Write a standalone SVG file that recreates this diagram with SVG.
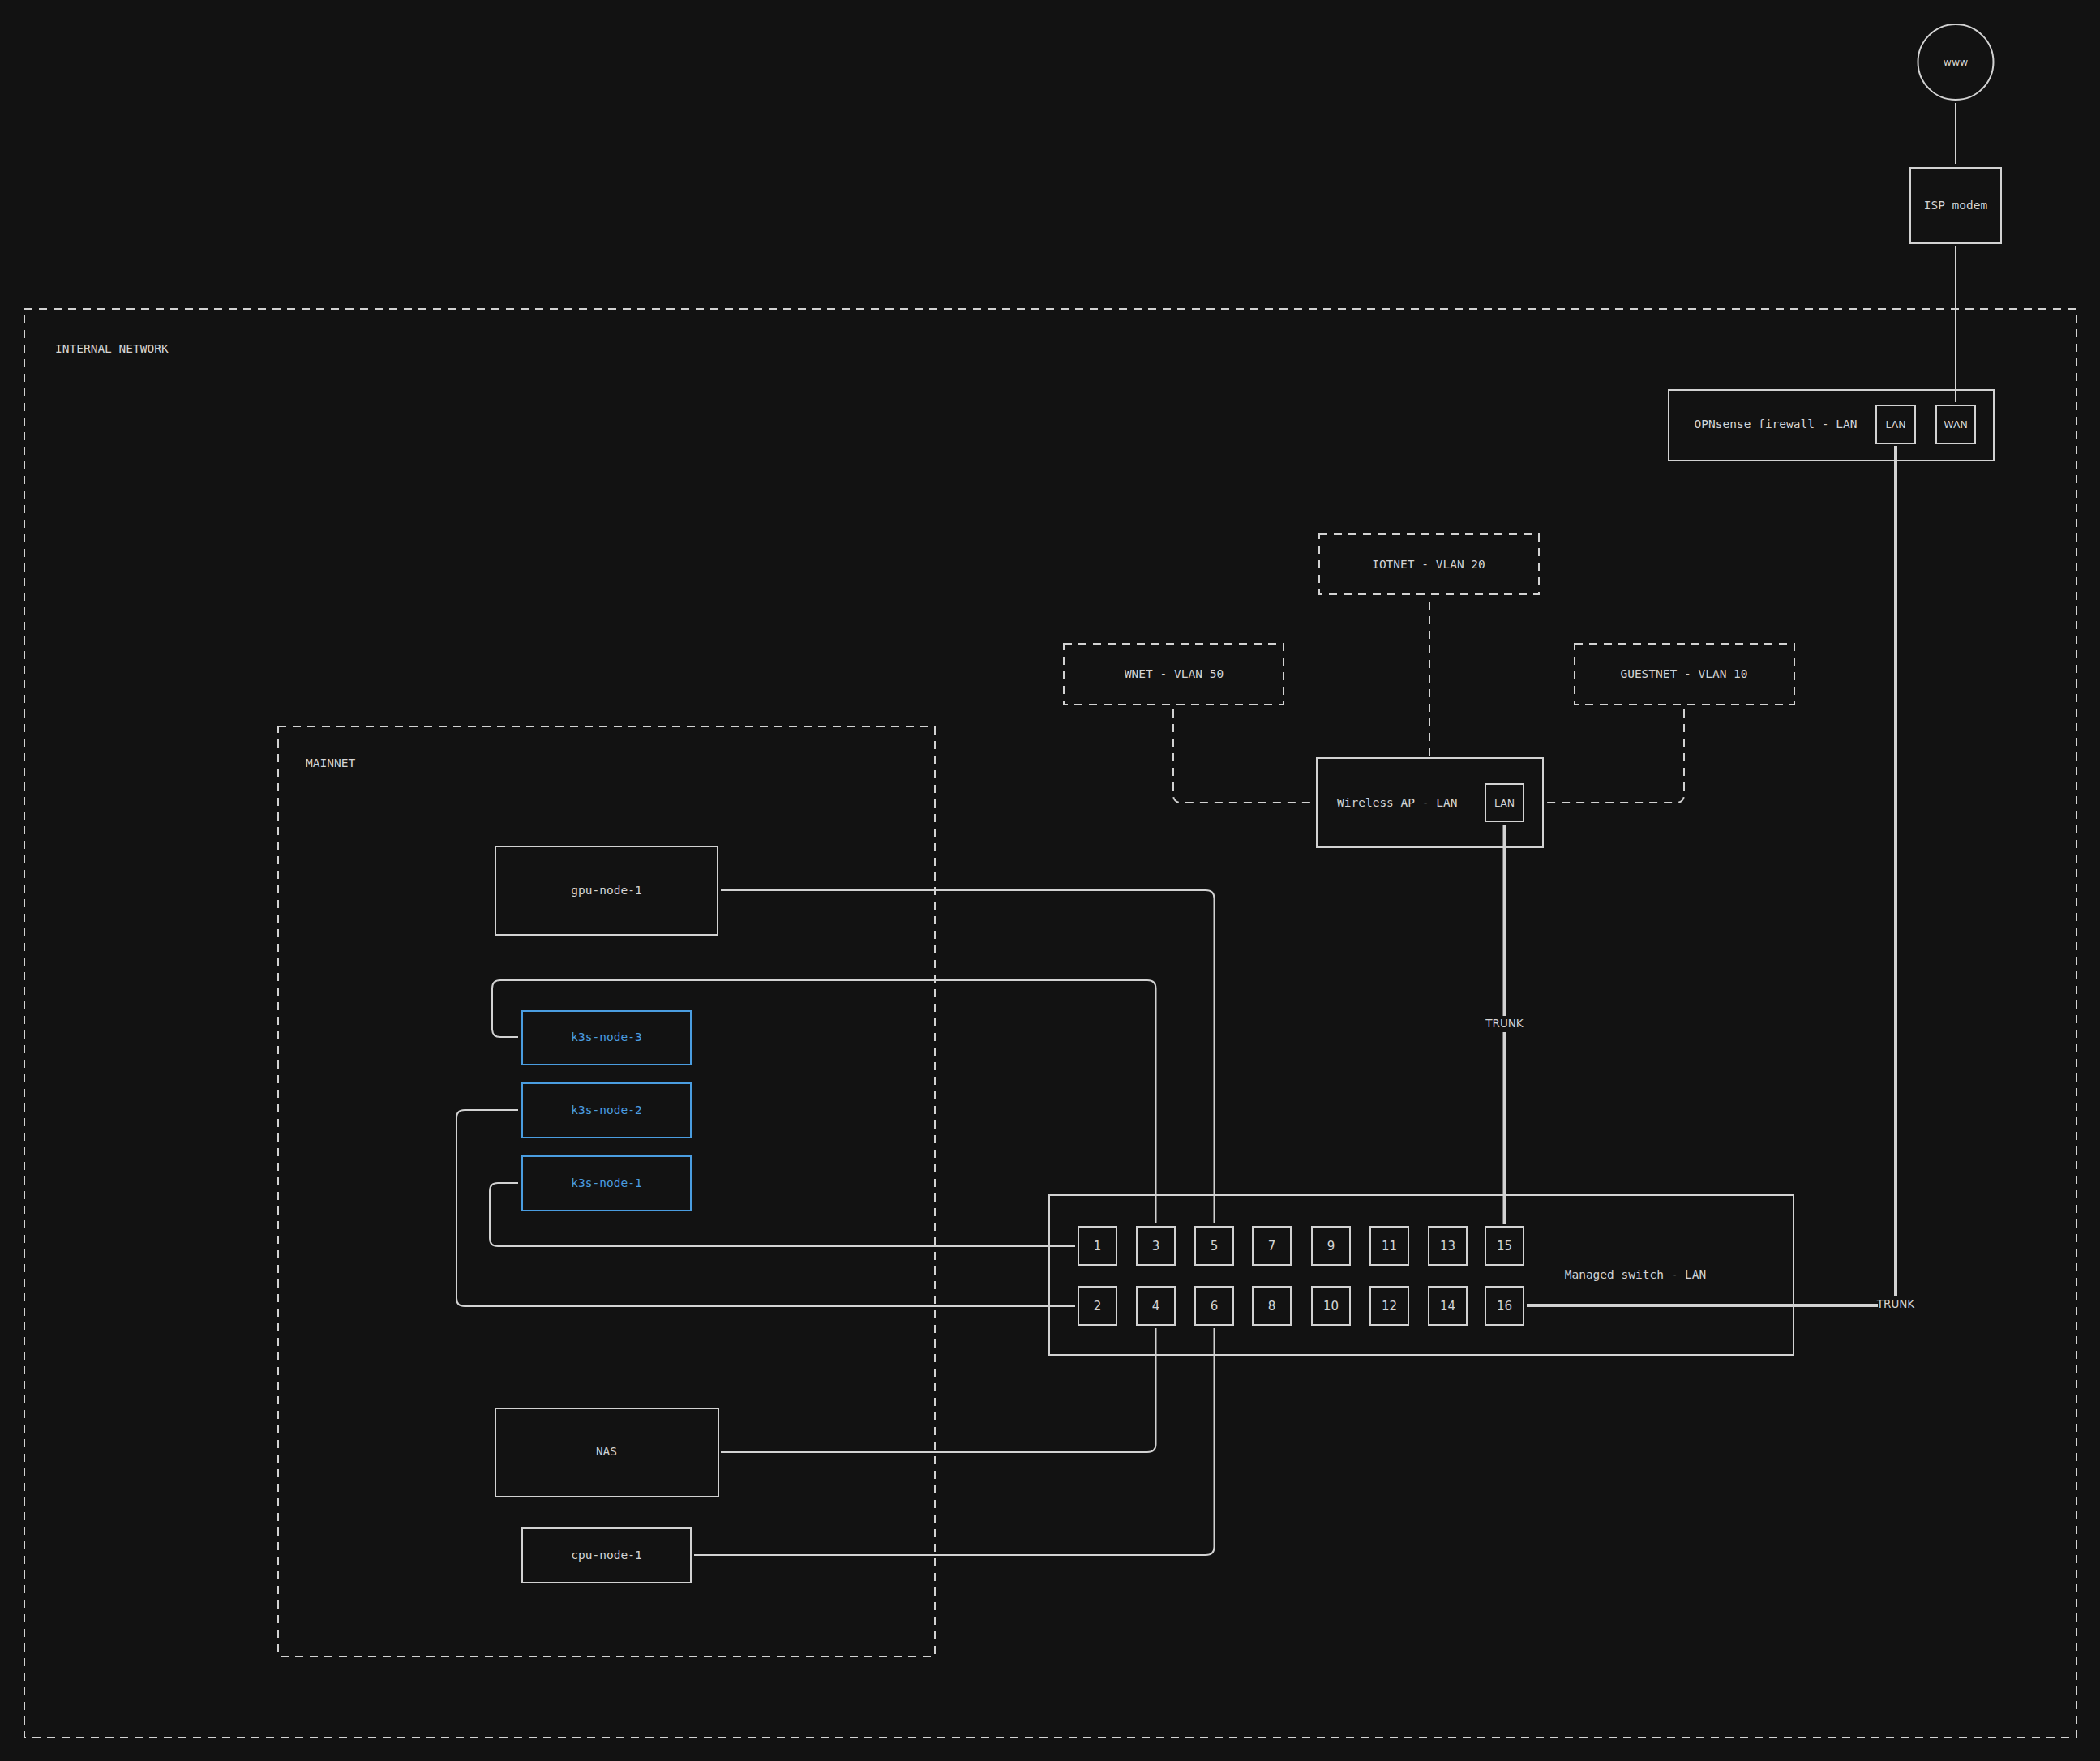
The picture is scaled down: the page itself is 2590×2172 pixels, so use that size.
<svg xmlns="http://www.w3.org/2000/svg" width="2590" height="2172" viewBox="0 0 2590 2172">
<style>
.bg{fill:#121212}
.box{fill:none;stroke:#d2d2d2;stroke-width:2}
.dbox{fill:none;stroke:#d2d2d2;stroke-width:2;stroke-dasharray:10 8}
.blue{fill:none;stroke:#4a9de0;stroke-width:2}
.port{fill:none;stroke:#d2d2d2;stroke-width:2}
.conn{fill:none;stroke:#d2d2d2;stroke-width:2}
.dconn{fill:none;stroke:#d2d2d2;stroke-width:2;stroke-dasharray:10 8}
.trunk{fill:none;stroke:#d2d2d2;stroke-width:4}
.lbl{font-family:"DejaVu Sans Mono","Liberation Mono",monospace;font-size:14.5px;fill:#d4d4d4;dominant-baseline:central}
.blbl{font-family:"DejaVu Sans Mono","Liberation Mono",monospace;font-size:14.5px;fill:#4a9de0;dominant-baseline:central;text-anchor:middle}
.c{text-anchor:middle}
.plbl{font-family:"DejaVu Sans","Liberation Sans",sans-serif;font-size:15px;fill:#d4d4d4;dominant-baseline:central;text-anchor:middle}
.slbl{font-family:"DejaVu Sans","Liberation Sans",sans-serif;font-size:12.5px;fill:#d4d4d4;dominant-baseline:central;text-anchor:middle}
.tlbl{font-family:"DejaVu Sans","Liberation Sans",sans-serif;font-size:13.5px;fill:#d4d4d4;dominant-baseline:central;text-anchor:middle}
</style>
<rect class="bg" x="0" y="0" width="2590" height="2172"/>

<g id="internal-network">
<rect class="dbox" x="30" y="381" width="2531" height="1762"/>
<text class="lbl" x="68" y="430">INTERNAL NETWORK</text>
</g>
<g id="mainnet">
<rect class="dbox" x="343" y="896" width="810" height="1147"/>
<text class="lbl" x="377" y="941">MAINNET</text>
</g>

<g id="connectors">
<path class="conn" d="M2412 127V202"/>
<path class="conn" d="M2412 304V496"/>
<path class="trunk" d="M2338 550V1599"/>
<path class="trunk" d="M2316 1610H1883"/>
<text class="tlbl" x="2338" y="1608">TRUNK</text>
<path class="trunk" d="M1855.5 1017V1253"/>
<path class="trunk" d="M1855.5 1273V1510"/>
<text class="tlbl" x="1855.5" y="1262">TRUNK</text>
<path class="dconn" d="M1763 742V932"/>
<path class="dconn" d="M1447 875V980Q1447 990 1457 990H1620"/>
<path class="dconn" d="M2077 875V980Q2077 990 2067 990H1907"/>
<path class="conn" d="M889 1098H1487Q1497.5 1098 1497.5 1108V1509"/>
<path class="conn" d="M639 1279H617Q607 1279 607 1269V1219Q607 1209 617 1209H1415Q1425.5 1209 1425.5 1219V1509"/>
<path class="conn" d="M639 1369H573Q563 1369 563 1379V1601Q563 1611 573 1611H1326"/>
<path class="conn" d="M639 1459H614Q604 1459 604 1469V1527Q604 1537 614 1537H1326"/>
<path class="conn" d="M889 1791H1415Q1425.5 1791 1425.5 1781V1638"/>
<path class="conn" d="M856 1918H1487Q1497.5 1918 1497.5 1908V1638"/>
</g>

<g id="www">
<circle class="box" cx="2412" cy="76.5" r="46.5"/>
<text class="slbl" x="2412" y="76">www</text>
</g>
<g id="isp-modem">
<rect class="box" x="2356" y="207" width="112" height="93"/>
<text class="lbl c" x="2412" y="253">ISP modem</text>
</g>
<g id="firewall">
<rect class="box" x="2058" y="481" width="401" height="87"/>
<text class="lbl c" x="2190" y="523">OPNsense firewall - LAN</text>
<rect class="port" x="2314" y="500" width="48" height="47"/>
<text class="slbl" x="2338" y="523">LAN</text>
<rect class="port" x="2388" y="500" width="48" height="47"/>
<text class="slbl" x="2412" y="523">WAN</text>
</g>
<g id="iotnet">
<rect class="dbox" x="1627" y="659" width="271" height="74"/>
<text class="lbl c" x="1762" y="696">IOTNET - VLAN 20</text>
</g>
<g id="wnet">
<rect class="dbox" x="1312" y="794" width="271" height="75"/>
<text class="lbl c" x="1448" y="831">WNET - VLAN 50</text>
</g>
<g id="guestnet">
<rect class="dbox" x="1942" y="794" width="271" height="75"/>
<text class="lbl c" x="2077" y="831">GUESTNET - VLAN 10</text>
</g>
<g id="wireless-ap">
<rect class="box" x="1624" y="935" width="279" height="110"/>
<text class="lbl" x="1649" y="990">Wireless AP - LAN</text>
<rect class="port" x="1832" y="967" width="47" height="46"/>
<text class="slbl" x="1855.5" y="990">LAN</text>
</g>
<g id="gpu-node-1">
<rect class="box" x="611" y="1044" width="274" height="109"/>
<text class="lbl c" x="748" y="1098">gpu-node-1</text>
</g>
<g id="k3s-node-3">
<rect class="blue" x="644" y="1247" width="208" height="66"/>
<text class="blbl" x="748" y="1279">k3s-node-3</text>
</g>
<g id="k3s-node-2">
<rect class="blue" x="644" y="1336" width="208" height="67"/>
<text class="blbl" x="748" y="1369">k3s-node-2</text>
</g>
<g id="k3s-node-1">
<rect class="blue" x="644" y="1426" width="208" height="67"/>
<text class="blbl" x="748" y="1459">k3s-node-1</text>
</g>
<g id="nas">
<rect class="box" x="611" y="1737" width="275" height="109"/>
<text class="lbl c" x="748" y="1790">NAS</text>
</g>
<g id="cpu-node-1">
<rect class="box" x="644" y="1885" width="208" height="67"/>
<text class="lbl c" x="748" y="1918">cpu-node-1</text>
</g>
<g id="managed-switch">
<rect class="box" x="1294" y="1474" width="918" height="197"/>
<text class="lbl c" x="2017" y="1572">Managed switch - LAN</text>
<rect class="port" x="1330" y="1513" width="47" height="47"/><text class="plbl" x="1353.5" y="1537">1</text>
<rect class="port" x="1402" y="1513" width="47" height="47"/><text class="plbl" x="1425.5" y="1537">3</text>
<rect class="port" x="1474" y="1513" width="47" height="47"/><text class="plbl" x="1497.5" y="1537">5</text>
<rect class="port" x="1545" y="1513" width="47" height="47"/><text class="plbl" x="1568.5" y="1537">7</text>
<rect class="port" x="1618" y="1513" width="47" height="47"/><text class="plbl" x="1641.5" y="1537">9</text>
<rect class="port" x="1690" y="1513" width="47" height="47"/><text class="plbl" x="1713.5" y="1537">11</text>
<rect class="port" x="1762" y="1513" width="47" height="47"/><text class="plbl" x="1785.5" y="1537">13</text>
<rect class="port" x="1832" y="1513" width="47" height="47"/><text class="plbl" x="1855.5" y="1537">15</text>
<rect class="port" x="1330" y="1587" width="47" height="47"/><text class="plbl" x="1353.5" y="1611">2</text>
<rect class="port" x="1402" y="1587" width="47" height="47"/><text class="plbl" x="1425.5" y="1611">4</text>
<rect class="port" x="1474" y="1587" width="47" height="47"/><text class="plbl" x="1497.5" y="1611">6</text>
<rect class="port" x="1545" y="1587" width="47" height="47"/><text class="plbl" x="1568.5" y="1611">8</text>
<rect class="port" x="1618" y="1587" width="47" height="47"/><text class="plbl" x="1641.5" y="1611">10</text>
<rect class="port" x="1690" y="1587" width="47" height="47"/><text class="plbl" x="1713.5" y="1611">12</text>
<rect class="port" x="1762" y="1587" width="47" height="47"/><text class="plbl" x="1785.5" y="1611">14</text>
<rect class="port" x="1832" y="1587" width="47" height="47"/><text class="plbl" x="1855.5" y="1611">16</text>
</g>
</svg>
